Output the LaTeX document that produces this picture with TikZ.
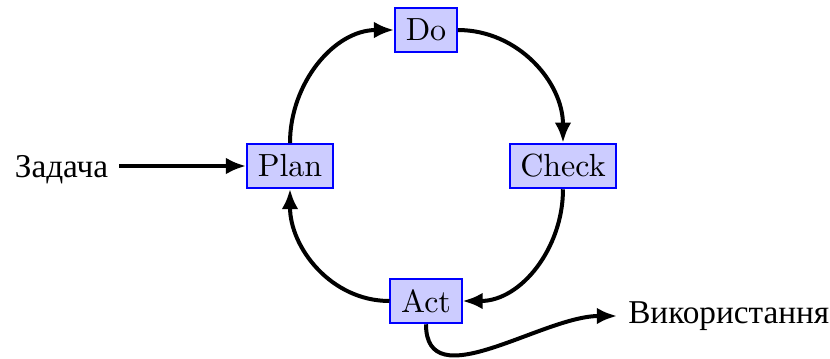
\documentclass[tikz,border=0pt]{standalone}
\usepackage{fontspec}
\newfontfamily\cyrfont{Liberation Serif}
\usetikzlibrary{arrows.meta}
\begin{document}
\begin{tikzpicture}[x=0.3125pt, y=-0.3125pt,
  stage/.style={draw=blue, fill=blue!20, line width=0.6pt},
  lbl/.style={font=\cyrfont\fontsize{10.4}{12.5}\selectfont},
  flow/.style={line width=1.25pt, -{Latex[length=6.3pt,width=5.2pt]}}]
  \useasboundingbox (0,0) rectangle (830,358);

  % the four stages of the cycle
  \node[stage] (do)    at (426,30)  {Do};
  \node[stage] (plan)  at (290,166) {Plan};
  \node[stage] (check) at (563,166) {Check};
  \node[stage] (act)   at (426,301) {Act};

  % input and output labels
  \node[lbl, anchor=base] (task) at (61.5,177) {Задача};
  \node[lbl, anchor=base west] (use) at (617,323) {Використання};

  % cycle connectors
  \draw[flow] (plan.north)  to[out=90,  in=180] (do.west);
  \draw[flow] (do.east)     to[out=0,   in=90]  (check.north);
  \draw[flow] (check.south) to[out=-90, in=0]   (act.east);
  \draw[flow] (act.west)    to[out=180, in=-90] (plan.south);

  % input and output connectors
  \draw[flow] (task.east |- plan.west) -- (plan.west);
  \draw[flow] (act.south) to[out=-90, in=180] (use.west |- 0,316);
\end{tikzpicture}
\end{document}
